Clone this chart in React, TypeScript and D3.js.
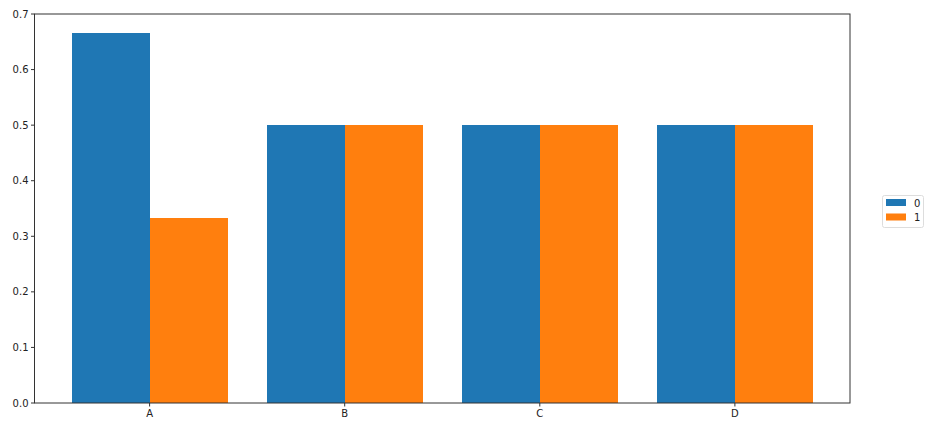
import React from "react";
import * as d3 from "d3";

const categories = ["A", "B", "C", "D"];
const seriesNames = ["0", "1"];
const series0 = [0.6667, 0.5, 0.5, 0.5];
const series1 = [0.3333, 0.5, 0.5, 0.5];
const yTicks = [0.0, 0.1, 0.2, 0.3, 0.4, 0.5, 0.6, 0.7];
const colors = ["#1f77b4", "#ff7f0e"];

export default function App() {
  const W = 939, H = 427;
  const left = 34.5, right = 850, top = 14, bottom = 403;
  const n = categories.length;
  const x = d3.scaleLinear().domain([-0.59, n - 1 + 0.59]).range([left, right]);
  const y = d3.scaleLinear().domain([0, 0.7]).range([bottom, top]);
  const bw = 0.4;
  const data = [series0, series1];
  const font = "DejaVu Sans, sans-serif";
  return (
    <svg width={W} height={H} style={{ position: "absolute", left: 0, top: 0 }}>
      <rect width={W} height={H} fill="#fff" />
      {data.map((s, si) =>
        s.map((v, i) => {
          const x0 = Math.round(x(i - 0.4 + si * bw));
          const x1 = Math.round(x(i - 0.4 + (si + 1) * bw));
          return (
            <rect key={`${si}-${i}`} x={x0} y={y(v)} width={x1 - x0} height={y(0) - y(v)} fill={colors[si]} shapeRendering="crispEdges" />
          );
        })
      )}
      <rect x={left} y={top} width={right - left} height={bottom - top} fill="none" stroke="#333" strokeWidth={1} />
      {yTicks.map((t) => (
        <g key={t}>
          <line x1={left - 3.5} x2={left} y1={y(t)} y2={y(t)} stroke="#333" />
          <text x={left - 6} y={y(t)} dy="0.35em" textAnchor="end" fontSize={10} fontFamily={font} fill="#222">
            {t.toFixed(1)}
          </text>
        </g>
      ))}
      {categories.map((c, i) => (
        <g key={c}>
          <line x1={x(i)} x2={x(i)} y1={bottom} y2={bottom + 3.5} stroke="#333" />
          <text x={x(i)} y={bottom + 14} textAnchor="middle" fontSize={10} fontFamily={font} fill="#222">
            {c}
          </text>
        </g>
      ))}
      <rect x={882.5} y={195.5} width={41} height={32} rx={2} fill="#fff" stroke="#ddd" />
      {seriesNames.map((nm, i) => (
        <g key={nm}>
          <rect x={886} y={199 + i * 14.5} width={20} height={7} fill={colors[i]} />
          <text x={914} y={203 + i * 14.5} dy="0.35em" fontSize={10} fontFamily={font} fill="#222">
            {nm}
          </text>
        </g>
      ))}
    </svg>
  );
}
